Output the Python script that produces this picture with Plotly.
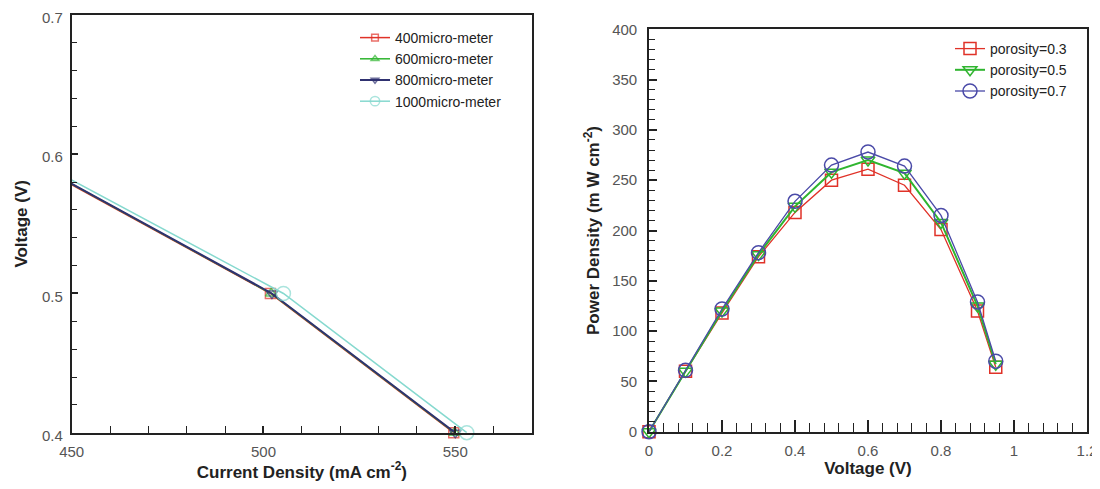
import plotly.graph_objects as go

# ---------------- Left panel data ----------------
left_voltage = [0.6, 0.5, 0.4]
cd_400 = [435.5, 501.8, 549.6]
cd_600 = [435.8, 502.0, 549.8]
cd_800 = [436.0, 502.2, 550.0]
cd_1000 = [437.5, 505.2, 553.0]
left_names = ["400micro-meter", "600micro-meter", "800micro-meter", "1000micro-meter"]

# ---------------- Right panel data ----------------
right_voltage = [0, 0.1, 0.2, 0.3, 0.4, 0.5, 0.6, 0.7, 0.8, 0.9, 0.95]
pd_03 = [0, 60, 118, 174, 218, 250, 261, 245, 201, 120, 64]
pd_05 = [0, 60, 120, 176, 224, 258, 270, 257, 208, 125, 67]
pd_07 = [0, 61, 122, 178, 229, 265, 278, 264, 215, 129, 70]
right_names = ["porosity=0.3", "porosity=0.5", "porosity=0.7"]

# page body has an 8px default margin -> figure sized to fit the window
OFF = 8
W, H = 1100 - OFF, 489 - OFF
LX = [450, 570]
LY = [0.4, 0.7]

def px_x(p):
    return (p - OFF) / W

def px_y(p):
    return 1 - (p - OFF) / H

fig = go.Figure()

left_styles = [
    dict(color="#e03228", symbol="square-open", size=10, width=1.5),
    dict(color="#2fb52f", symbol="triangle-up-open", size=10, width=1.5),
    dict(color="#2f3170", symbol="triangle-down-open", size=10, width=2),
    dict(color="#86d9cf", symbol="circle-open", size=14, width=1.5),
]
left_series = [cd_400, cd_600, cd_800, cd_1000]
for name, xs, st in zip(left_names, left_series, left_styles):
    sizes = [st["size"] if LX[0] <= x <= LX[1] else 0 for x in xs]
    fig.add_trace(go.Scatter(
        x=xs, y=left_voltage, name=name, mode="lines+markers",
        line=dict(color=st["color"], width=st["width"]),
        marker=dict(symbol=st["symbol"], size=sizes, color=st["color"],
                    line=dict(width=1.5, color=st["color"])),
        xaxis="x", yaxis="y", legend="legend", cliponaxis=False,
    ))

right_styles = [
    dict(color="#e03228", symbol="square-open", size=12, width=1.3),
    dict(color="#2fb52f", symbol="triangle-down-open", size=12, width=2),
    dict(color="#4a4aa8", symbol="circle-open", size=14, width=1.3),
]
for name, ys, st in zip(right_names, [pd_03, pd_05, pd_07], right_styles):
    fig.add_trace(go.Scatter(
        x=right_voltage, y=ys, name=name, mode="lines+markers",
        line=dict(color=st["color"], width=st["width"]),
        marker=dict(symbol=st["symbol"], size=st["size"], color=st["color"],
                    line=dict(width=1.5, color=st["color"])),
        xaxis="x2", yaxis="y2", legend="legend2", cliponaxis=False,
    ))

FONT = "Liberation Sans, Arial, Helvetica"
tickfont = dict(family=FONT, size=15, color="#555555")
titlefont = dict(family=FONT, size=17, color="#222222")
axcommon = dict(showline=True, mirror=True, linecolor="#222222", linewidth=1.6,
                ticks="inside", tickcolor="#222222", tickwidth=1.5,
                showgrid=False, zeroline=False, tickfont=tickfont,
                ticklabeloverflow="allow")

fig.update_layout(
    width=W, height=H, template="none",
    paper_bgcolor="white", plot_bgcolor="white",
    margin=dict(l=0, r=0, t=0, b=0),
    xaxis=dict(domain=[px_x(71.7), px_x(532)], range=LX, dtick=50, anchor="y", ticklen=7,
               minor=dict(dtick=10, ticks="inside", ticklen=7, tickcolor="#222222", tickwidth=1.2),
               title=dict(text="<b>Current Density (mA cm<sup>-2</sup>)</b>", font=titlefont, standoff=6),
               ticklabelstandoff=4, **axcommon),
    yaxis=dict(domain=[px_y(432.7), px_y(15)], range=LY, dtick=0.1, tickformat=".1f", anchor="x", ticklen=6,
               minor=dict(dtick=0.02, ticks="inside", ticklen=5, tickcolor="#222222", tickwidth=1.2),
               title=dict(text="<b>Voltage (V)</b>", font=titlefont, standoff=10),
               ticklabelstandoff=4, ticklabelshift=3, **axcommon),
    xaxis2=dict(domain=[px_x(649), px_x(1087)], range=[0, 1.2], dtick=0.2, anchor="y2", ticklen=12,
                minor=dict(dtick=0.04, ticks="inside", ticklen=9, tickcolor="#222222", tickwidth=1.2),
                title=dict(text="<b>Voltage (V)</b>", font=titlefont, standoff=5),
                ticklabelstandoff=4, **axcommon),
    yaxis2=dict(domain=[px_y(431.7), px_y(29.3)], range=[0, 400], dtick=50, anchor="x2", ticklen=8,
                minor=dict(dtick=10, ticks="inside", ticklen=6, tickcolor="#222222", tickwidth=1.2),
                title=dict(text="<b>Power Density (m W cm<sup>-2</sup>)</b>", font=titlefont, standoff=8),
                ticklabelstandoff=7, **axcommon),
    legend=dict(x=px_x(355), y=px_y(22), xanchor="left", yanchor="top",
                bgcolor="rgba(0,0,0,0)", borderwidth=0, tracegroupgap=0,
                font=dict(family=FONT, size=14, color="#222222")),
    legend2=dict(x=px_x(950), y=px_y(33), xanchor="left", yanchor="top",
                 bgcolor="rgba(0,0,0,0)", borderwidth=0, tracegroupgap=0,
                 font=dict(family=FONT, size=14, color="#222222")),
    showlegend=True,
)

fig.write_html("out.html")
